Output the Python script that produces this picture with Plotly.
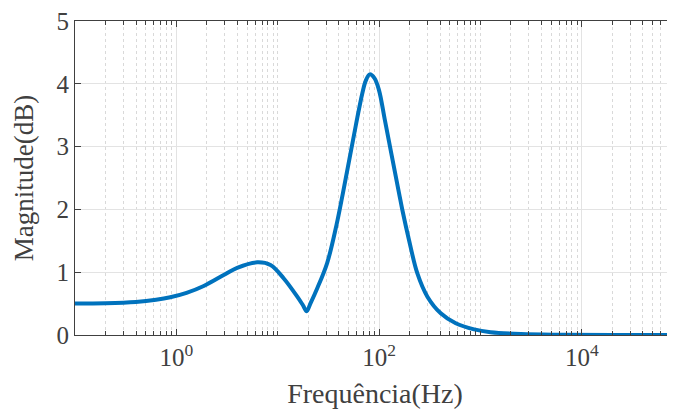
import plotly.graph_objects as go

# Data
freq_hz = [0.1, 0.2, 0.398, 0.631, 0.871, 1.26, 1.862, 2.93, 3.98, 6.27, 8.49, 11.48, 15.6,
           17.8, 19.3, 21.0, 24.5, 30.8, 38.0, 44.0, 58.7, 68.4, 74.0, 80.9, 90.0, 99.8, 114.8,
           157.4, 169.8, 197.7, 238.8, 299.9, 406, 571, 867, 1259, 2512, 6310, 19953, 100000]
magnitude_db = [0.50, 0.505, 0.525, 0.56, 0.60, 0.67, 0.78, 0.955, 1.07, 1.157, 1.115, 0.90, 0.61,
                0.47, 0.38, 0.50, 0.74, 1.15, 1.75, 2.26, 3.32, 3.85, 4.05, 4.15, 4.09, 3.90, 3.40,
                2.26, 1.99, 1.51, 0.98, 0.61, 0.345, 0.186, 0.09, 0.045, 0.015, 0.004, 0.0, 0.0]

x_tickvals = [1, 100, 10000]
x_ticktext = ["10<sup>0</sup>", "10<sup>2</sup>", "10<sup>4</sup>"]
y_tickvals = [0, 1, 2, 3, 4, 5]

# minor grid positions (every 1..9 x decade, excluding the labeled majors)
minor_vals = []
for k in range(-1, 5):
    for m in range(1, 10):
        v = m * 10.0 ** k
        if v not in x_tickvals:
            minor_vals.append(v)

FONT = "Liberation Serif"
TXT = "#404040"
FS_TICK = 25
FS_TITLE = 28

fig = go.Figure()
fig.add_trace(go.Scatter(
    x=freq_hz, y=magnitude_db, mode="lines",
    line=dict(color="#0072BD", width=4, shape="spline", smoothing=1.0),
    hoverinfo="skip", showlegend=False,
))

# page body has an 8px margin: figure sized so it fits the 675x415 window
fig.update_layout(
    width=667, height=407,
    margin=dict(l=67, r=0, t=13, b=80),
    paper_bgcolor="white", plot_bgcolor="white",
    font=dict(family=FONT, size=FS_TICK, color=TXT),
)

fig.update_xaxes(
    type="log", range=[-1, 4.92], automargin=False,
    tickmode="array", tickvals=x_tickvals, ticktext=x_ticktext,
    ticks="inside", ticklen=6, tickwidth=1, tickcolor=TXT,
    showline=True, linecolor=TXT, linewidth=1, mirror="ticks",
    showgrid=True, gridcolor="#e3e3e3", gridwidth=1,
    minor=dict(tickmode="array", tickvals=minor_vals, ticks="inside", ticklen=4,
               tickcolor=TXT, showgrid=True, gridcolor="#d9d9d9", griddash="dot", gridwidth=1),
    tickfont=dict(family=FONT, size=FS_TICK, color=TXT),
    ticklabeloverflow="allow",
    title=dict(text="Frequência(Hz)", font=dict(family=FONT, size=FS_TITLE, color=TXT), standoff=13),
    zeroline=False,
)

fig.update_yaxes(
    range=[0, 5], tickmode="array", tickvals=y_tickvals, automargin=False,
    ticks="inside", ticklen=6, tickwidth=1, tickcolor=TXT,
    showline=True, linecolor=TXT, linewidth=1,
    showgrid=True, gridcolor="#e3e3e3", gridwidth=1,
    tickfont=dict(family=FONT, size=FS_TICK, color=TXT),
    ticklabeloverflow="allow",
    title=dict(text="Magnitude(dB)", font=dict(family=FONT, size=27, color=TXT), standoff=15),
    zeroline=False,
)

fig.write_html("out.html")
